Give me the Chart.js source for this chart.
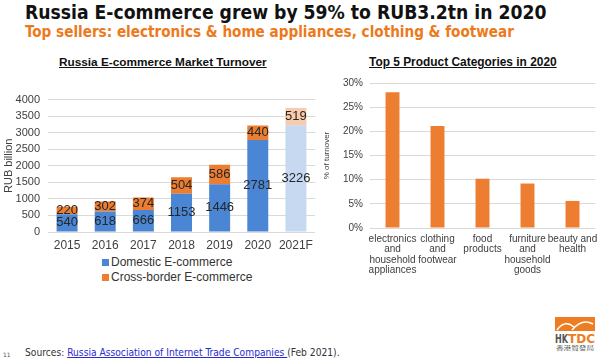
<!DOCTYPE html>
<html>
<head>
<meta charset="utf-8">
<script src="https://cdn.jsdelivr.net/npm/chart.js@4"></script>
<style>
  html, body { margin: 0; padding: 0; background: #fff; }
  #page { position: relative; width: 600px; height: 361px; overflow: hidden; font-family: "Liberation Sans", Arial, sans-serif; }
  .abs { position: absolute; white-space: nowrap; }
  .fit { display: inline-block; }
  #title { left: 25px; top: 1px; font: bold 20px "DejaVu Sans Condensed", "DejaVu Sans", sans-serif; color: #111; }
  #subtitle { left: 25px; top: 23px; font: bold 15px "DejaVu Sans Condensed", "DejaVu Sans", sans-serif; color: #ec7a1c; }
  .ctitle { font: bold 11.5px "Liberation Sans", Arial, sans-serif; color: #111; text-decoration: underline; }
  .legend { font: 12px "Liberation Sans", Arial, sans-serif; color: #333; }
  .legend i { display: inline-block; width: 7px; height: 7px; margin-right: 2px; vertical-align: 0px; }
  #footer { left: 25px; top: 347px; font: 10px "DejaVu Sans Condensed", "DejaVu Sans", sans-serif; color: #333; }
  #footer a { color: #2a2ad0; text-decoration: underline; }
  #pagenum { left: 3px; top: 351px; font: 6px "DejaVu Sans", sans-serif; color: #555; }
  canvas { position: absolute; }
</style>
</head>
<body>
<div id="page">
  <div class="abs fit" id="title" data-w="522">Russia E-commerce grew by 59% to RUB3.2tn in 2020</div>
  <div class="abs fit" id="subtitle" data-w="489">Top sellers: electronics &amp; home appliances, clothing &amp; footwear</div>

  <div class="abs fit ctitle" id="t1" style="left:59px; top:55px;" data-w="208">Russia E-commerce Market Turnover</div>
  <div class="abs fit ctitle" id="t2" style="left:369px; top:55px;" data-w="188">Top 5 Product Categories in 2020</div>

  <canvas id="turnover" width="320" height="170" style="left:0; top:85px;"></canvas>
  <canvas id="categories" width="280" height="210" style="left:320px; top:70px;"></canvas>

  <div class="abs legend" style="left:102px; top:255px;"><i style="background:#4a86d4"></i>Domestic E-commerce</div>
  <div class="abs legend" style="left:102px; top:270px;"><i style="background:#ed7d31"></i>Cross-border E-commerce</div>

  <div class="abs" id="pagenum">11</div>
  <div class="abs fit" id="footer" data-w="315">Sources: <a>Russia Association of Internet Trade Companies </a>(Feb 2021).</div>

  <svg class="abs" style="left:553px; top:315px;" width="45" height="38" viewBox="0 0 45 38">
    <rect x="2" y="2" width="40" height="14" fill="#ee7d22"/>
    <path d="M4 15 Q12 4 21 12" stroke="#fff" stroke-width="1.6" fill="none"/>
    <path d="M19 15 Q29 3 40 9" stroke="#fff" stroke-width="1.6" fill="none"/>
    <text x="2" y="28" font-family="DejaVu Sans Condensed, DejaVu Sans" font-weight="bold" font-size="12" fill="#555" textLength="13" lengthAdjust="spacingAndGlyphs">HK</text>
    <text x="15" y="28" font-family="DejaVu Sans Condensed, DejaVu Sans" font-weight="bold" font-size="12" fill="#ee7d22" textLength="27" lengthAdjust="spacingAndGlyphs">TDC</text>
    <text x="3" y="35" font-family="Noto Sans CJK TC" font-size="5.5" fill="#555" textLength="38" lengthAdjust="spacingAndGlyphs">香港貿發局</text>
  </svg>
</div>

<script>
// left chart data
const years = ['2015', '2016', '2017', '2018', '2019', '2020', '2021F'];
const domestic = [540, 618, 666, 1153, 1446, 2781, 3226];
const crossBorder = [220, 302, 374, 504, 586, 440, 519];

// right chart data
const categories = [
  ['electronics', 'and', 'household', 'appliances'],
  ['clothing', 'and', 'footwear'],
  ['food', 'products'],
  ['furniture', 'and', 'household', 'goods'],
  ['beauty and', 'health'],
];
const shares = [28.1, 21.1, 10.2, 9.2, 5.6];

// fit header/footer text to the widths measured on the picture
document.querySelectorAll('.fit').forEach((el) => {
  const target = +el.dataset.w;
  const size = parseFloat(getComputedStyle(el).fontSize);
  el.style.fontSize = (size * target / el.getBoundingClientRect().width) + 'px';
});

Chart.defaults.font.family = '"Liberation Sans", Arial, sans-serif';
Chart.defaults.color = '#595959';

// draws the value in the middle of each bar segment
const barValues = {
  id: 'barValues',
  afterDatasetsDraw(chart) {
    const ctx = chart.ctx;
    ctx.save();
    ctx.font = '13px "Liberation Sans", Arial, sans-serif';
    ctx.fillStyle = '#262626';
    ctx.textAlign = 'center';
    ctx.textBaseline = 'middle';
    chart.data.datasets.forEach((ds, i) => {
      chart.getDatasetMeta(i).data.forEach((bar, j) => {
        const p = bar.getProps(['x', 'y', 'base'], true);
        ctx.fillText(ds.data[j], p.x, (p.y + p.base) / 2);
      });
    });
    ctx.restore();
  },
};

const gridColor = '#d9d9d9';
const lastIdx = years.length - 1;

new Chart(document.getElementById('turnover'), {
  type: 'bar',
  data: {
    labels: years,
    datasets: [
      {
        label: 'Domestic E-commerce',
        data: domestic,
        backgroundColor: years.map((y, i) => (i === lastIdx ? '#c6d9f1' : '#4a86d4')),
      },
      {
        label: 'Cross-border E-commerce',
        data: crossBorder,
        backgroundColor: years.map((y, i) => (i === lastIdx ? '#f8cbad' : '#ed7d31')),
      },
    ],
  },
  options: {
    responsive: false,
    animation: false,
    devicePixelRatio: 1,
    layout: { padding: { top: 7, right: 5 } },
    datasets: { bar: { categoryPercentage: 1, barPercentage: 0.55 } },
    plugins: { legend: { display: false }, tooltip: { enabled: false } },
    scales: {
      x: {
        stacked: true,
        grid: { display: false },
        border: { display: false },
        ticks: { font: { size: 12 }, color: '#404040', padding: -2, minRotation: 0, maxRotation: 0, autoSkip: false },
        afterFit: (s) => { s.height = 23; },
      },
      y: {
        stacked: true,
        min: 0,
        max: 4000,
        ticks: { stepSize: 500, font: { size: 11 }, color: '#404040', padding: 8, callback: (v) => String(v) },
        grid: { color: gridColor, drawTicks: false },
        border: { display: false },
        title: { display: true, text: 'RUB billion', font: { size: 11 }, color: '#404040', padding: 2 },
        afterFit: (s) => { s.width = 48; },
      },
    },
  },
  plugins: [barValues],
});

new Chart(document.getElementById('categories'), {
  type: 'bar',
  data: {
    labels: categories,
    datasets: [{ label: '% of turnover', data: shares, backgroundColor: '#ed7d31' }],
  },
  options: {
    responsive: false,
    animation: false,
    devicePixelRatio: 1,
    layout: { padding: { top: 8, right: 5 } },
    datasets: { bar: { categoryPercentage: 1, barPercentage: 0.31 } },
    plugins: { legend: { display: false }, tooltip: { enabled: false } },
    scales: {
      x: {
        grid: { display: false },
        border: { display: false },
        ticks: { font: { size: 10, lineHeight: 1.03 }, color: '#404040', padding: -2, minRotation: 0, maxRotation: 0, autoSkip: false },
        afterFit: (s) => { s.height = 52; },
      },
      y: {
        min: 0,
        max: 30,
        ticks: { stepSize: 5, font: { size: 10 }, color: '#404040', padding: 7, callback: (v) => v + '%' },
        grid: { color: gridColor, drawTicks: false },
        border: { display: false },
        title: { display: true, text: '% of turnover', font: { size: 8 }, color: '#404040', padding: 2 },
        afterFit: (s) => { s.width = 50; },
      },
    },
  },
});
</script>
</body>
</html>
